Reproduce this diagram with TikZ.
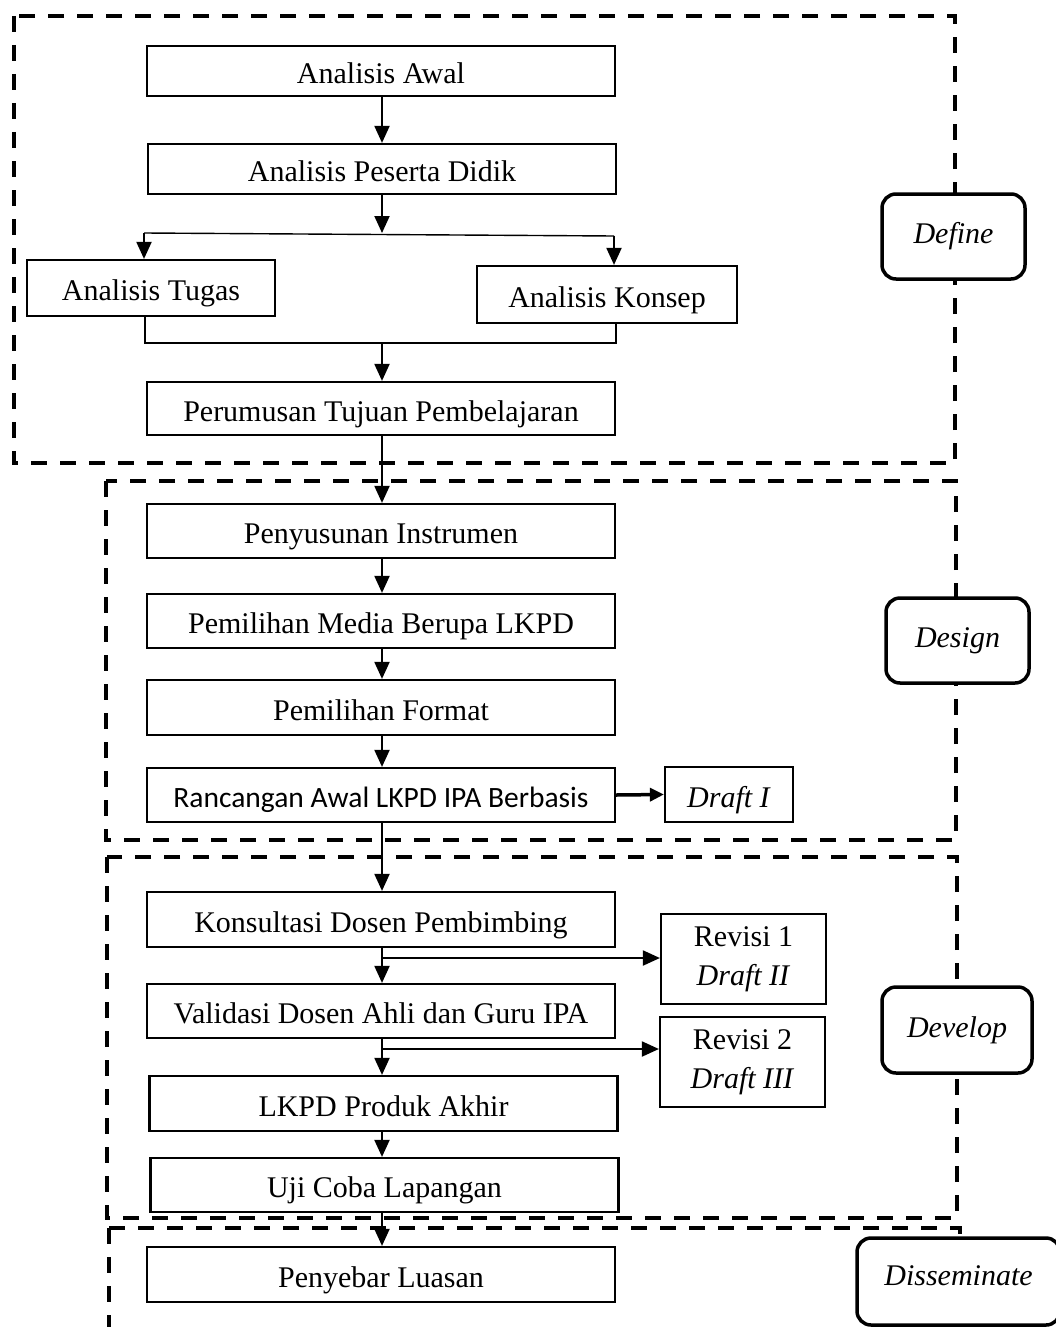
\documentclass[tikz,border=0pt]{standalone}
\usepackage{fontspec}
\setmainfont{Liberation Serif}
\newfontfamily\calibri{Carlito}
\usetikzlibrary{arrows.meta}
\begin{document}
\begin{tikzpicture}[x=1pt,y=-1pt]
\tikzset{
 box/.style={draw, line width=2.2pt, fill=white, minimum width=468pt, minimum height=54pt, inner sep=0pt, text height=25pt, text depth=0pt, font=\fontsize{30}{39}\selectfont},
 lbl/.style={draw, line width=3.5pt, fill=white, rounded corners=14pt, inner sep=0pt, font=\fontsize{30}{34}\selectfont\itshape},
 phase/.style={line width=4pt, dash pattern=on 16pt off 13pt},
 arr/.style={line width=2pt, -{Triangle[length=17pt,width=15pt]}},
 thickarr/.style={line width=3.5pt, -{Triangle[length=14pt,width=13pt]}},
 thinline/.style={line width=1.4pt}
}
\useasboundingbox (0,0) rectangle (1056,1327);
\clip (0,0) rectangle (1056,1327);
\fill[white] (0,0) rectangle (1056,1327);

% phase frames
\draw[phase] (14,16) rectangle (955,463);
\draw[phase] (106,481) rectangle (956,840);
\draw[phase] (107,857) rectangle (957,1218);
\draw[phase] (109,1228) -- (960,1228) -- (960,1360);
\draw[phase] (109,1228) -- (109,1360);

% phase labels
\node[lbl, minimum width=143pt, minimum height=85pt] (define) at (953.5,236.5) {Define};
\node[lbl, minimum width=143pt, minimum height=85pt] (design) at (957.5,640.5) {Design};
\node[lbl, minimum width=150pt, minimum height=86pt] (develop) at (957,1030) {Develop};
\node[lbl, minimum width=203pt, minimum height=87pt, text depth=12pt] (dissem) at (958.5,1281.5) {Disseminate};

% define
\node[box, minimum height=50pt] (awal) at (381,71) {Analisis Awal};
\node[box, minimum height=50pt] (peserta) at (382,169) {Analisis Peserta Didik};
\node[box, minimum width=248pt, minimum height=56pt] (tugas) at (151,288) {Analisis Tugas};
\node[box, minimum width=260pt, minimum height=57pt] (konsep) at (607,294.5) {Analisis Konsep};
\node[box, minimum height=53pt] (rumus) at (381,408.5) {Perumusan Tujuan Pembelajaran};

% design
\node[box] (susun) at (381,531) {Penyusunan Instrumen};
\node[box] (media) at (381,621) {Pemilihan Media Berupa LKPD};
\node[box, minimum height=55pt] (format) at (381,707.5) {Pemilihan Format};
\node[box, font=\fontsize{29.5}{39}\calibri] (rancang) at (381,795) {Rancangan Awal LKPD IPA Berbasis};
\node[box, minimum width=128pt, minimum height=55pt] (d1) at (729,794.5) {\textit{Draft I}};

% develop
\node[box, minimum height=55pt] (konsul) at (381,919.5) {Konsultasi Dosen Pembimbing};
\node[box] (valid) at (381,1011) {Validasi Dosen Ahli dan Guru IPA};
\node[box, minimum height=55pt] (lkpd) at (383.5,1103.5) {LKPD Produk Akhir};
\node[box] (uji) at (384.5,1185) {Uji Coba Lapangan};
\node[box, text height=, text depth=, minimum width=165pt, minimum height=90pt, align=center] (r1) at (743.5,959) {Revisi 1\\\textit{Draft II}};
\node[box, text height=, text depth=, minimum width=165pt, minimum height=90pt, align=center] (r2) at (742.5,1062) {Revisi 2\\\textit{Draft III}};

% disseminate
\node[box, minimum height=55pt] (sebar) at (381,1274.5) {Penyebar Luasan};

% connectors
\draw[arr] (awal.south -| 382,0) -- (peserta.north -| 382,0);
\coordinate (sp) at (382,233);
\coordinate (sl) at (144,233);
\coordinate (sr) at (614,236);
\draw[arr] (peserta.south -| sp) -- (sp);
\draw[thinline] (sl) -- (sr);
\draw[arr] (sl) -- (sl |- tugas.north);
\draw[arr] (sr) -- (sr |- konsep.north);
\coordinate (jl) at (145,343);
\coordinate (jr) at (616,343);
\coordinate (jm) at (382,343);
\draw[thinline] (jl |- tugas.south) -- (jl) -- (jr) -- (jr |- konsep.south);
\draw[arr] (jm) -- (jm |- rumus.north);

\draw[arr] (rumus.south -| jm) -- (susun.north -| jm);
\draw[arr] (susun.south -| jm) -- (media.north -| jm);
\draw[arr] (media.south -| jm) -- (format.north -| jm);
\draw[arr] (format.south -| jm) -- (rancang.north -| jm);
\draw[thickarr] (rancang.east) -- (d1.west);
\draw[arr] (rancang.south -| jm) -- (konsul.north -| jm);
\draw[arr] (konsul.south -| jm) -- (valid.north -| jm);
\coordinate (b1) at (382,958);
\draw[arr] (b1) -- (b1 -| r1.west);
\draw[arr] (valid.south -| jm) -- (lkpd.north -| jm);
\coordinate (b2) at (382,1049);
\draw[arr] (b2) -- (b2 -| r2.west);
\draw[arr] (lkpd.south -| jm) -- (uji.north -| jm);
\draw[arr] (uji.south -| jm) -- (sebar.north -| jm);
\end{tikzpicture}
\end{document}
